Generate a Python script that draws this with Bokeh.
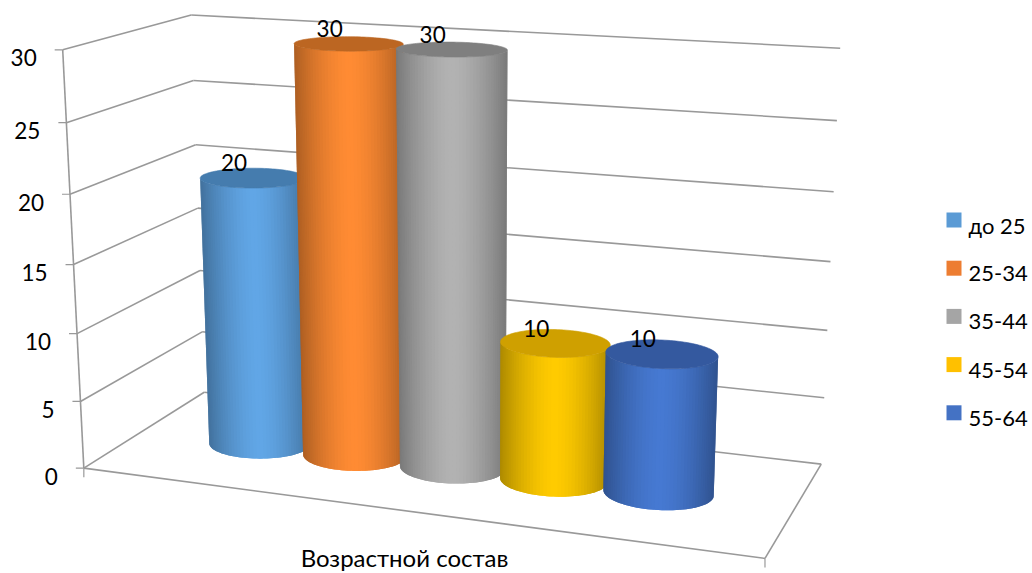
import numpy as np
from bokeh.core.properties import value
from bokeh.embed import file_html
from bokeh.models import ColumnDataSource, Range1d
from bokeh.plotting import figure
from bokeh.resources import INLINE

# Chart content
age_groups = ["до 25", "25-34", "35-44", "45-54", "55-64"]
shares = [20, 30, 30, 10, 10]
y_ticks = [0, 5, 10, 15, 20, 25, 30]
x_title = "Возрастной состав"
legend_colors = ["#5B9BD5", "#ED7D31", "#A5A5A5", "#FFC000", "#4472C4"]
body_colors = ["#61A6E6", "#FF8B33", "#B2B2B2", "#FFCB00", "#4679D2"]
cap_colors = ["#457CAE", "#BC6622", "#7F7F7F", "#CFA000", "#34599F"]

FONT = "Lato"
GRID = "#999999"
Y_MAX = 30.0
GAP_SLOTS = 1.5      # category gap, in column widths
RADIUS_U = 0.505     # cylinder radius, in column widths
RADIUS_W = 0.178     # cylinder radius along the depth axis
DEPTH_C = 0.49


# Camera for the 3D box: (u, value/Ymax, w) -> screen pixels, solved by DLT
# from the box's known edges (u: along the x axis, w: into the page).
box_edges = [
    ((0, 0), [(82, 467), (79.5, 401), (77, 333), (73.5, 264), (70, 193), (66, 123), (62, 50)]),
    ((0, 1), [(204, 392), (202, 332), (200, 270), (197.5, 207.5), (195, 144), (193, 80), (190, 14)]),
    ((1, 1), [(820, 463), (824, 398), (827, 330), (830, 261), (833, 191), (836, 121), (840, 47)]),
    ((1, 0), [(765, 558)]),
]
rows = []
for (u, w), pts in box_edges:
    for k, (sx, sy) in enumerate(pts):
        v = k / 6
        rows.append([u, v, w, 1, 0, 0, 0, 0, -sx * u, -sx * v, -sx * w, -sx])
        rows.append([0, 0, 0, 0, u, v, w, 1, -sy * u, -sy * v, -sy * w, -sy])
CAMERA = np.linalg.svd(np.array(rows, float))[2][-1].reshape(3, 4)


def project(u, val, w):
    u, val, w = np.broadcast_arrays(np.asarray(u, float), np.asarray(val, float), np.asarray(w, float))
    h = CAMERA @ np.vstack([u.ravel(), val.ravel() / Y_MAX, w.ravel(), np.ones(u.size)])
    return (h[0] / h[2]).reshape(u.shape), (h[1] / h[2]).reshape(u.shape)


p = figure(width=1032, height=573, output_backend="svg", toolbar_location=None,
           x_range=Range1d(0, 1032), y_range=Range1d(573, 0), min_border=0,
           outline_line_color=None, background_fill_color="white")
p.axis.visible = False
p.grid.visible = False

# Walls and floor
wall_x, wall_y = [], []


def edge(a, b):
    x, y = project([a[0], b[0]], [a[1], b[1]], [a[2], b[2]])
    wall_x.append(list(x))
    wall_y.append(list(y))


for t in y_ticks:
    edge((0, t, 0), (0, t, 1))
    edge((0, t, 1), (1, t, 1))
edge((0, 0, 0), (0, Y_MAX, 0))
edge((0, 0, 0), (1, 0, 0))
edge((1, 0, 0), (1, 0, 1))
p.multi_line(wall_x, wall_y, line_color=GRID, line_width=1.6)

# Tick marks
tx, ty = project(np.zeros(len(y_ticks)), y_ticks, np.zeros(len(y_ticks)))
p.multi_line([[x - 8, x] for x in tx], [[y, y] for y in ty], line_color=GRID, line_width=1.2)
fx, fy = project([0, 1], [0, 0], [0, 0])
p.multi_line([[x, x] for x in fx], [[y, y + 9] for y in fy], line_color=GRID, line_width=1.2)

p.text(tx - 26, ty + 8, text=[str(t) for t in y_ticks], text_font=value(FONT), text_font_size="22.5px",
       text_align="right", text_baseline="middle", text_color="#000000")


def shade(hex_color, f):
    rgb = [int(hex_color[i:i + 2], 16) for i in (1, 3, 5)]
    return "#%02x%02x%02x" % tuple(int(round(c * f)) for c in rgb)


def silhouette_angles(uc, val, n):
    # Front half of a ring, running between its screen-right and screen-left extremes
    a = np.linspace(-np.pi / 2, np.pi / 2, 721)
    b = np.linspace(np.pi / 2, 3 * np.pi / 2, 721)
    ru = RADIUS_U / (len(shares) + GAP_SLOTS)
    xr, _ = project(uc + ru * np.cos(a), val, DEPTH_C - RADIUS_W * np.sin(a))
    xl, _ = project(uc + ru * np.cos(b), val, DEPTH_C - RADIUS_W * np.sin(b))
    return np.linspace(a[np.argmax(xr)], b[np.argmin(xl)], n)


def ring(uc, val, theta):
    ru = RADIUS_U / (len(shares) + GAP_SLOTS)
    return project(uc + ru * np.cos(theta), val, DEPTH_C - RADIUS_W * np.sin(theta))


STRIPS = 48
slots = len(shares) + GAP_SLOTS
for i, share in enumerate(shares):
    uc = (GAP_SLOTS / 2 + i + 0.5) / slots
    bx, by = ring(uc, 0, silhouette_angles(uc, 0, STRIPS + 1))
    hx, hy = ring(uc, share, silhouette_angles(uc, share, STRIPS + 1))
    xs, ys, fills = [], [], []
    # Each strip reaches under its neighbour so no hairline shows between them
    for s in range(STRIPS):
        e = min(s + 2, STRIPS)
        xs.append([bx[s], *bx[s + 1:e + 1], hx[e], *hx[s + 1:e][::-1], hx[s]])
        ys.append([by[s], *by[s + 1:e + 1], hy[e], *hy[s + 1:e][::-1], hy[s]])
        t = abs(np.cos(np.pi * (s + 0.5) / STRIPS))
        fills.append(shade(body_colors[i], 1 - 0.32 * t ** 1.6))
    p.patches("xs", "ys", source=ColumnDataSource(dict(xs=xs, ys=ys, c=fills)),
              fill_color="c", line_color=None)
    cx, cy = ring(uc, share, np.linspace(0, 2 * np.pi, 120))
    p.patch(cx, cy, fill_color=cap_colors[i], line_color=cap_colors[i], line_width=0.6)

# Value labels sit just above each cap
for i, share in enumerate(shares):
    uc = (GAP_SLOTS / 2 + i + 0.5) / slots
    lx, ly = project(uc, share, DEPTH_C)
    p.text([float(lx) - 19], [float(ly) - 15], text=[str(share)], text_font=value(FONT),
           text_font_size="22.5px", text_align="center", text_baseline="middle", text_color="#000000")

# Legend
for i, name in enumerate(age_groups):
    y0 = 219.5 + 48.2 * i
    p.rect([953.5], [y0], width=15, height=15, fill_color=legend_colors[i], line_color=None)
    p.text([968], [y0 + 5.5], text=[name], text_font=value(FONT), text_font_size="22px",
           text_align="left", text_baseline="middle", text_color="#000000")

p.text([404], [557], text=[x_title], text_font=value(FONT), text_font_size="24px",
       text_align="center", text_baseline="middle", text_color="#000000")

open("out.html", "w").write(file_html(p, INLINE))
